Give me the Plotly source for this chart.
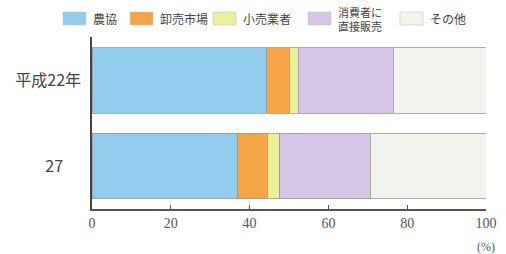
import plotly.graph_objects as go

categories = ["27", "平成22年"]
series_names = ["農協", "卸売市場", "小売業者", "消費者に<br>直接販売", "その他"]
series_values = [
    [37.0, 44.4],   # 農協
    [7.5, 5.6],     # 卸売市場
    [3.2, 2.3],     # 小売業者
    [22.9, 24.1],   # 消費者に直接販売
    [29.4, 23.6],   # その他
]
colors = ["#92cdee", "#f5a548", "#ebf09a", "#d5c6e8", "#f3f3ee"]
x_ticks = [0, 20, 40, 60, 80, 100]
y_ticktext = ["27\u00a0\u00a0\u00a0\u00a0\u00a0", "平成22年"]

W, H = 506, 254
L, R, T, B = 92, 20, 37, 45
PW, PH = W - L - R, H - T - B


def px(x):
    return (x - L) / PW


def py(y):
    return (H - B - y) / PH


fig = go.Figure()
for name, vals, col in zip(series_names, series_values, colors):
    fig.add_trace(go.Bar(
        y=categories, x=vals, name=name, orientation="h",
        marker=dict(color=col, line=dict(color="#9a9a9a", width=0.8)),
        width=0.766, showlegend=False,
    ))

FONT = "Noto Sans CJK JP"
fig.update_layout(
    barmode="stack",
    width=W, height=H,
    margin=dict(l=L, r=R, t=T, b=B, autoexpand=False),
    paper_bgcolor="white", plot_bgcolor="white",
    font=dict(family=FONT, size=12, color="#444"),
    showlegend=False,
)
fig.update_xaxes(range=[0, 100], tickvals=x_ticks, ticktext=[str(v) for v in x_ticks],
                 showgrid=False, zeroline=False, showline=True, linecolor="#555", linewidth=1.5,
                 ticks="inside", ticklen=4, tickcolor="#555", automargin=False,
                 tickfont=dict(family="Liberation Serif", size=14, color="#555"))
fig.update_yaxes(range=[-0.503, 1.509], tickvals=[0, 1], ticktext=y_ticktext,
                 showgrid=False, zeroline=False, showline=True, linecolor="#444", linewidth=1.5,
                 ticks="", automargin=False, ticklabelstandoff=6,
                 tickfont=dict(size=16, color="#444"))
fig.add_annotation(text="(%)", xref="x", yref="paper", x=100, y=py(238), showarrow=False,
                   xanchor="center", yanchor="top",
                   font=dict(family="Liberation Serif", size=12, color="#555"))

# custom legend (wide swatches like the reference)
legend_box_x = [63, 130, 213, 308, 400]
legend_text_sizes = [12, 12, 12, 11, 12]
for name, col, bx, fs in zip(series_names, colors, legend_box_x, legend_text_sizes):
    fig.add_shape(type="rect", xref="paper", yref="paper",
                  x0=px(bx), x1=px(bx + 23), y0=py(25), y1=py(12),
                  fillcolor=col, line=dict(color="#c8c8c8", width=0.6))
    fig.add_annotation(text=name, xref="paper", yref="paper", x=px(bx + 28), y=py(18.5),
                       xanchor="left", yanchor="middle", showarrow=False, align="left",
                       font=dict(size=fs, color="#444"))

fig.write_html("out.html", config={"displayModeBar": False},
               post_script="document.body.style.margin='0';document.body.style.overflow='hidden';")
